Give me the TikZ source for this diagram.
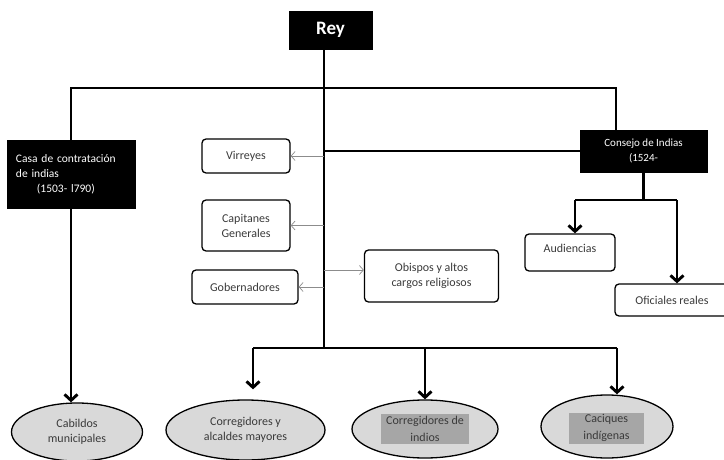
\documentclass[tikz,border=0pt]{standalone}
\usepackage{fontspec}
\setmainfont{Carlito}
\usetikzlibrary{arrows.meta,shapes.geometric}

\definecolor{darktext}{HTML}{3A3A3A}
\definecolor{ovalgray}{HTML}{D9D9D9}
\definecolor{taggray}{HTML}{A6A6A6}
\definecolor{thingray}{HTML}{8C8C8C}

\tikzset{
  blackbox/.style={draw=black, fill=black, text=white, inner sep=0pt},
  roundbox/.style={draw, rounded corners=4pt, line width=1.3pt, align=center, text=darktext, inner sep=0pt},
  oval/.style={ellipse, draw, line width=1.3pt, fill=ovalgray, align=center, text=darktext, inner sep=0pt},
  graytag/.style={fill=taggray, align=center, text=darktext, inner sep=0pt},
  link/.style={line width=2.9pt},
  down/.style={link, -{Straight Barb[length=6pt,width=13pt]}},
  thinarrow/.style={draw=thingray, line width=0.7pt, -{Straight Barb[length=4pt,width=9pt]}}
}

\begin{document}
\begin{tikzpicture}[x=1pt, y=-1pt, font=\fontsize{12}{15}\selectfont]
	\useasboundingbox (0,0) rectangle (724,460);
	
	% top level
	\node[blackbox, minimum width=83pt, minimum height=38pt, font=\fontsize{19}{20}\selectfont\bfseries] (rey) at (330.5,30) {Rey};
	\node[blackbox, minimum width=128pt, minimum height=68pt, text width=110pt, align=left, font=\fontsize{11.5}{15}\selectfont] (casa) at (71,174) {Casa de contratación\\de indias\\\hspace*{21pt}(1503- l790)};
	\node[blackbox, minimum width=127pt, minimum height=42pt, align=center, font=\fontsize{11}{15}\selectfont] (consejo) at (643.5,151) {Consejo de Indias\\(1524-};
	
	% boxes
	\node[roundbox, minimum width=88pt, minimum height=34pt] (virreyes) at (246,156) {Virreyes};
	\node[roundbox, minimum width=88pt, minimum height=51pt] (capitanes) at (246,225.5) {Capitanes\\Generales};
	\node[roundbox, minimum width=106pt, minimum height=34pt] (gobernadores) at (245,287) {Gobernadores};
	\node[roundbox, minimum width=134pt, minimum height=52pt] (obispos) at (431.5,276) {Obispos y altos\\cargos religiosos};
	\node[roundbox, minimum width=90pt, minimum height=37pt] (audiencias) at (570,252.5) {Audiencias\\[-6pt]~};
	\node[roundbox, minimum width=114pt, minimum height=32pt] (oficiales) at (672,300) {Oficiales reales};
	
	% ellipses
	\node[oval, minimum width=131pt, minimum height=58pt] (cabildos) at (77,432) {Cabildos\\municipales};
	\node[oval, minimum width=159pt, minimum height=60pt] (corral) at (245.5,430) {Corregidores y\\alcaldes mayores};
	\node[oval, minimum width=146pt, minimum height=58pt] (corind) at (425,429) {};
	\node[graytag, minimum width=88pt, minimum height=30pt, font=\fontsize{12}{17}\selectfont] (corindtag) at (425,429) {Corregidores de\\indios};
	\node[oval, minimum width=132pt, minimum height=63pt] (caciques) at (607,426.5) {};
	\node[graytag, minimum width=75pt, minimum height=31pt, font=\fontsize{12}{17}\selectfont] (caciquestag) at (606.5,428) {Caciques\\indígenas};
	
	\coordinate (t) at (324,348);
	\coordinate (tr) at (616,88);
	\coordinate (cjl) at (575,200);
	\coordinate (cjr) at (677,200);
	\coordinate (bl) at (253,348);
	\coordinate (br) at (617,348);
	\coordinate (ob) at ([yshift=6pt]obispos.west);
	
	% thick lines
	\draw[link] (rey.south -| t) -- (t);
	\draw[link] (casa.north) |- (tr) -- (tr |- consejo.north);
	\draw[link] (t |- consejo.west) -- (consejo.west);
	\draw[down] (casa.south) -- (casa.south |- cabildos.north);
	
	\draw[link] (consejo.south) -- (consejo.south |- cjl);
	\draw[link] (cjl) -- (cjr);
	\draw[down] (cjl) -- (cjl |- audiencias.north);
	\draw[down] (cjr) -- (cjr |- oficiales.north);
	
	\draw[link] (bl) -- (br);
	\draw[down, shorten >=10pt] (bl) -- (bl |- corral.north);
	\draw[down] (corind.north |- bl) -- (corind.north);
	\draw[down] (br) -- (br |- caciques.north);
	
	% thin arrows
	\draw[thinarrow] (virreyes.east -| t) -- (virreyes.east);
	\draw[thinarrow] (capitanes.east -| t) -- (capitanes.east);
	\draw[thinarrow] (gobernadores.east -| t) -- (gobernadores.east);
	\draw[thinarrow] (ob -| t) -- (ob);
\end{tikzpicture}
\end{document}
